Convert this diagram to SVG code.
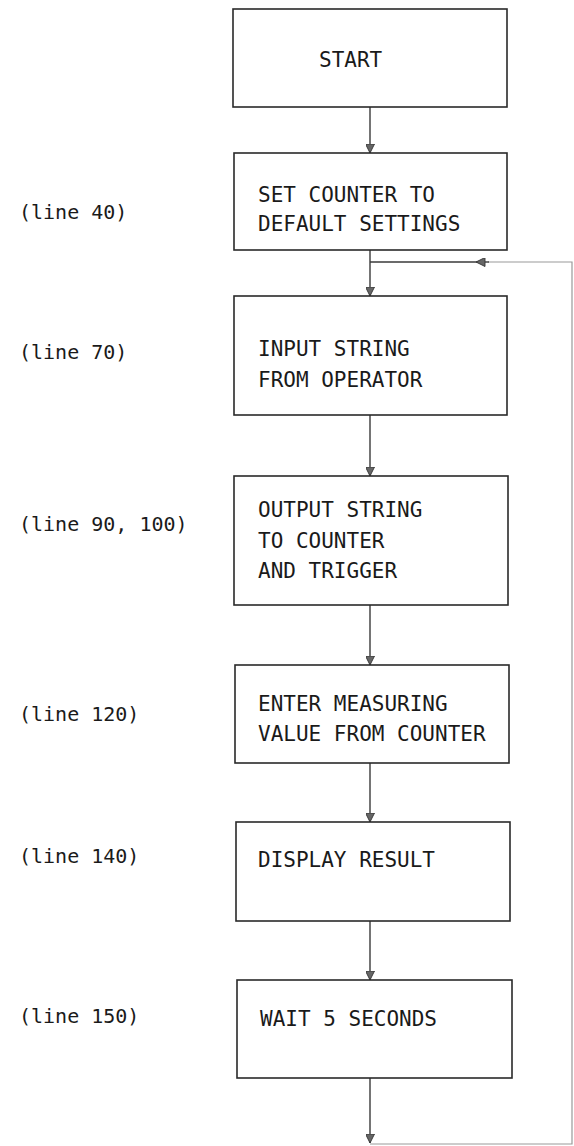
<svg xmlns="http://www.w3.org/2000/svg" width="574" height="1146" viewBox="0 0 574 1146">
<defs>
<style>
.box{fill:#fff;stroke:#2a2a2a;stroke-width:1.6}
.t{font-family:"DejaVu Sans Mono","Liberation Mono",monospace;font-size:21px;fill:#1a1a1a}
.lbl{font-family:"DejaVu Sans Mono","Liberation Mono",monospace;font-size:20px;fill:#1a1a1a}
.c{fill:none;stroke:#3a3a3a;stroke-width:1.4}
.cl{fill:none;stroke:#999;stroke-width:1.2}
</style>
<marker id="ah" viewBox="0 0 10 10" refX="10" refY="5" markerWidth="10" markerHeight="9" markerUnits="userSpaceOnUse" orient="auto">
<path d="M0,0 L10,5 L0,10 Z" fill="#666" stroke="#333" stroke-width="1"/>
</marker>
</defs>
<rect width="574" height="1146" fill="#fff"/>
<g id="connectors">
<line class="c" x1="370" y1="107" x2="370" y2="153" marker-end="url(#ah)"/>
<line class="c" x1="370" y1="250" x2="370" y2="296" marker-end="url(#ah)"/>
<line class="c" x1="370" y1="415" x2="370" y2="476" marker-end="url(#ah)"/>
<line class="c" x1="370" y1="605" x2="370" y2="665" marker-end="url(#ah)"/>
<line class="c" x1="370" y1="763" x2="370" y2="822" marker-end="url(#ah)"/>
<line class="c" x1="370" y1="921" x2="370" y2="980" marker-end="url(#ah)"/>
<line class="c" x1="370" y1="1078" x2="370" y2="1143" marker-end="url(#ah)"/>
<polyline class="cl" points="370,1144 572,1144 572,262 488,262"/>
<line class="c" x1="489" y1="262" x2="476" y2="262" marker-end="url(#ah)"/>
<line class="c" x1="476" y1="262" x2="370" y2="262"/>
</g>
<g id="start"><rect class="box" x="233" y="9" width="274" height="98"/><text class="t" x="319" y="67">START</text></g>
<g id="set-counter"><rect class="box" x="234" y="153" width="273" height="97"/><text class="t" x="258" y="202">SET COUNTER TO</text><text class="t" x="258" y="231">DEFAULT SETTINGS</text></g>
<g id="input-string"><rect class="box" x="234" y="296" width="273" height="119"/><text class="t" x="258" y="356">INPUT STRING</text><text class="t" x="258" y="387">FROM OPERATOR</text></g>
<g id="output-string"><rect class="box" x="234" y="476" width="274" height="129"/><text class="t" x="258" y="517">OUTPUT STRING</text><text class="t" x="258" y="548">TO COUNTER</text><text class="t" x="258" y="578">AND TRIGGER</text></g>
<g id="enter-value"><rect class="box" x="235" y="665" width="274" height="98"/><text class="t" x="258" y="711">ENTER MEASURING</text><text class="t" x="258" y="741">VALUE FROM COUNTER</text></g>
<g id="display-result"><rect class="box" x="236" y="822" width="274" height="99"/><text class="t" x="258" y="867">DISPLAY RESULT</text></g>
<g id="wait"><rect class="box" x="237" y="980" width="275" height="98"/><text class="t" x="260" y="1026">WAIT 5 SECONDS</text></g>
<g id="labels">
<text class="lbl" x="19" y="219">(line 40)</text>
<text class="lbl" x="19" y="359">(line 70)</text>
<text class="lbl" x="19" y="531">(line 90, 100)</text>
<text class="lbl" x="19" y="721">(line 120)</text>
<text class="lbl" x="19" y="863">(line 140)</text>
<text class="lbl" x="19" y="1023">(line 150)</text>
</g>
</svg>
